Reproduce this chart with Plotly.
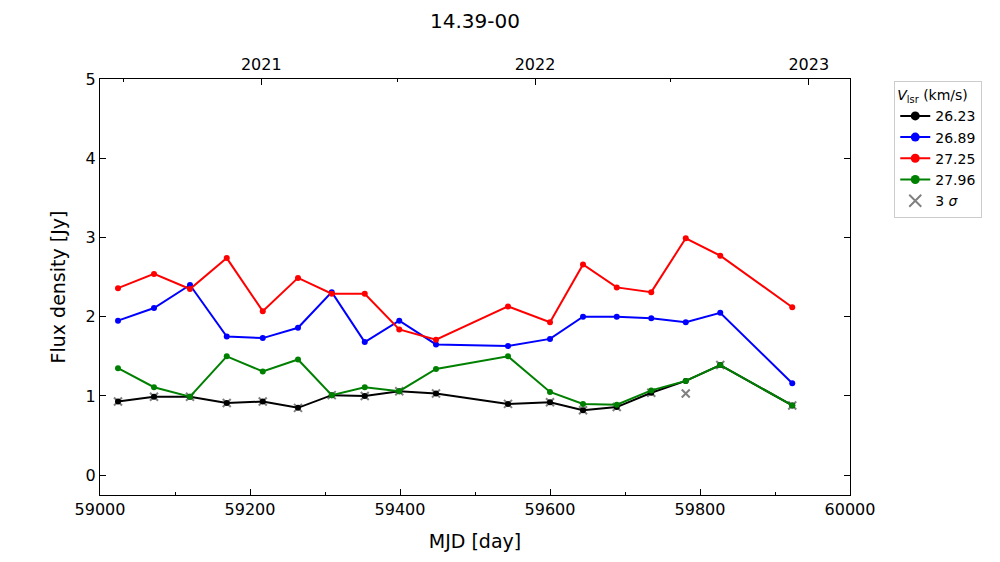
import plotly.graph_objects as go

mjd = [59024, 59072, 59120, 59169, 59217, 59264, 59309, 59353, 59399, 59448,
       59544, 59600, 59644, 59689, 59735, 59781, 59827, 59923]

flux_2623 = [0.93, 0.99, 0.99, 0.91, 0.93, 0.85, 1.01, 1.00, 1.06, 1.03,
             0.90, 0.92, 0.82, 0.86, 1.04, 1.19, 1.39, 0.88]
flux_2689 = [1.95, 2.11, 2.40, 1.75, 1.73, 1.86, 2.31, 1.68, 1.95, 1.65,
             1.63, 1.72, 2.00, 2.00, 1.98, 1.93, 2.05, 1.16]
flux_2725 = [2.36, 2.54, 2.35, 2.74, 2.07, 2.49, 2.29, 2.29, 1.84, 1.71,
             2.13, 1.93, 2.66, 2.37, 2.31, 2.99, 2.77, 2.12]
flux_2796 = [1.35, 1.11, 0.99, 1.50, 1.31, 1.46, 1.01, 1.11, 1.06, 1.34,
             1.50, 1.05, 0.90, 0.89, 1.07, 1.19, 1.39, 0.88]
sigma3 = [0.93, 0.99, 0.99, 0.91, 0.93, 0.85, 1.01, 1.00, 1.06, 1.03,
          0.90, 0.92, 0.82, 0.86, 1.04, 1.03, 1.39, 0.88]

series_names = ["26.23", "26.89", "27.25", "27.96"]
series_colors = ["black", "blue", "red", "green"]
series_values = [flux_2623, flux_2689, flux_2725, flux_2796]

x_ticks = [59000, 59200, 59400, 59600, 59800, 60000]
x_tick_labels = ["59000", "59200", "59400", "59600", "59800", "60000"]
year_mjd = [59215, 59580, 59945]
year_labels = ["2021", "2022", "2023"]
half_year_mjd = [59031, 59396, 59761]

FONT = "DejaVu Sans"

fig = go.Figure()
# 3-sigma markers drawn beneath the series
fig.add_trace(go.Scatter(
    x=mjd, y=sigma3, mode="markers", name="3 σ", showlegend=False,
    marker=dict(symbol="x-thin", color="gray", size=8, line=dict(color="gray", width=2)),
))
for name, color, vals in zip(series_names, series_colors, series_values):
    fig.add_trace(go.Scatter(
        x=mjd, y=vals, mode="lines+markers", name=name, showlegend=False,
        line=dict(color=color, width=2),
        marker=dict(color=color, size=6),
    ))
# legend entries (larger symbols like the reference legend)
for name, color in zip(series_names, series_colors):
    fig.add_trace(go.Scatter(
        x=[None], y=[None], mode="lines+markers", name=name,
        line=dict(color=color, width=2), marker=dict(color=color, size=9),
    ))
fig.add_trace(go.Scatter(
    x=[None], y=[None], mode="markers", name="3 <i>σ</i>",
    marker=dict(symbol="x-thin", color="gray", size=12, line=dict(color="gray", width=2)),
))
# invisible trace to activate the top axis
fig.add_trace(go.Scatter(x=[59000, 60000], y=[None, None], xaxis="x2",
                         showlegend=False, hoverinfo="skip"))

# the page body adds an 8px offset; margins compensate for it
fig.update_layout(
    width=1000, height=562,
    margin=dict(l=92, r=158, t=71, b=75, autoexpand=False),
    paper_bgcolor="white", plot_bgcolor="white",
    font=dict(family=FONT, color="black", size=16),
    title=dict(text="14.39-00", x=0.467, xref="container", xanchor="center",
               y=0.977, yref="container", yanchor="middle", font=dict(size=20, family=FONT)),
    xaxis=dict(
        range=[59000, 60000], tickvals=x_ticks, ticktext=x_tick_labels,
        ticks="inside", ticklen=6, tickcolor="black", showline=True, linecolor="black",
        linewidth=1.2, mirror=True, showgrid=False, zeroline=False, automargin=False,
        minor=dict(dtick=100, tick0=59000, ticks="inside", ticklen=3, tickcolor="black"),
        title=dict(text="MJD [day]", font=dict(size=19), standoff=16),
        tickfont=dict(size=16),
    ),
    xaxis2=dict(
        range=[59000, 60000], overlaying="x", side="top",
        tickvals=year_mjd, ticktext=year_labels, ticks="inside", ticklen=6,
        tickcolor="black", showgrid=False, zeroline=False, showline=False, automargin=False,
        minor=dict(tickvals=half_year_mjd, ticks="inside", ticklen=3, tickcolor="black"),
        tickfont=dict(size=16), ticklabelstandoff=5,
    ),
    yaxis=dict(
        range=[-0.25, 5], tickvals=[0, 1, 2, 3, 4, 5], ticks="inside", ticklen=6,
        tickcolor="black", showline=True, linecolor="black", linewidth=1.2,
        mirror="ticks", showgrid=False, zeroline=False, automargin=False,
        title=dict(text="Flux density [Jy]", font=dict(size=19), standoff=14),
        tickfont=dict(size=16),
    ),
    legend=dict(
        x=1.059, y=0.995, xanchor="left", yanchor="top",
        bordercolor="#cccccc", borderwidth=1, bgcolor="white",
        font=dict(size=14, family=FONT),
        title=dict(text="<i>V</i><sub>lsr</sub> (km/s)", font=dict(size=14, family=FONT)),
        tracegroupgap=2, itemwidth=30,
    ),
)

fig.write_html("out.html")
